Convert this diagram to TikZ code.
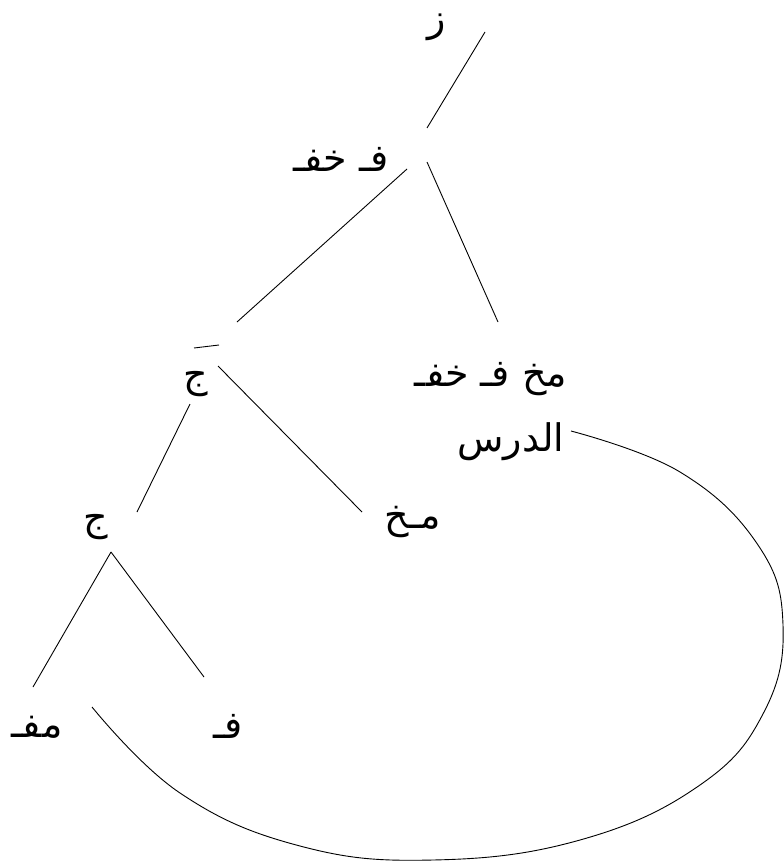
\documentclass[tikz,border=0pt]{standalone}
\usepackage{fontspec}
\TeXXeTstate=1
\newfontfamily\arabicfont[Script=Arabic]{DejaVu Sans}
\begin{document}
\begin{tikzpicture}[x=1pt,y=-1pt,
  lbl/.style={inner sep=0pt, font=\arabicfont\fontsize{38}{40}\selectfont},
  edge/.style={line width=0.9pt, black}]
\useasboundingbox (0,0) rectangle (784,862);
% labels
\node[lbl] (z)    at (437,27)  {\beginR ز\endR};
\node[lbl] (fkhf) at (341,159) {\beginR فـ خفـ\endR};
\node[lbl] (mfk)  at (491,379) {\beginR مخ فـ خفـ\endR};
\node[lbl] (drs)  at (511,442) {\beginR الدرس\endR};
\node[lbl] (j1)   at (196,384) {\beginR ج\endR};
\node[lbl] (mkh)  at (413,522) {\beginR مـخ\endR};
\node[lbl] (j2)   at (96,527)  {\beginR ج\endR};
\node[lbl] (mf)   at (37,727)  {\beginR مفـ\endR};
\node[lbl] (f)    at (228,726) {\beginR فـ\endR};
% connector ends
\coordinate (a1) at (485,32);  \coordinate (a2) at (427,128);
\coordinate (b1) at (407,169); \coordinate (b2) at (237,322);
\coordinate (c1) at (427,162); \coordinate (c2) at (498,322);
\coordinate (d1) at (218,366); \coordinate (d2) at (362,512);
\coordinate (e1) at (190,404); \coordinate (e2) at (137,512);
\coordinate (g0) at (111,552);
\coordinate (g1) at (33,687);  \coordinate (g2) at (204,677);
\coordinate (h1) at (194,348); \coordinate (h2) at (219,345);
\coordinate (k1) at (571,431); \coordinate (k2) at (92,707);
% connectors
\draw[edge] (a1) -- (a2);
\draw[edge] (b1) -- (b2);
\draw[edge] (c1) -- (c2);
\draw[edge] (d1) -- (d2);
\draw[edge] (e1) -- (e2);
\draw[edge] (g0) -- (g1);
\draw[edge] (g0) -- (g2);
\draw[edge] (h1) -- (h2);
\draw[edge] plot[smooth, tension=0.7] coordinates {(k1) (680,472) (758,545) (783,625) (764,712) (700,785) (580,840) (433,860) (300,846) (180,793) (k2)};
\end{tikzpicture}
\end{document}
